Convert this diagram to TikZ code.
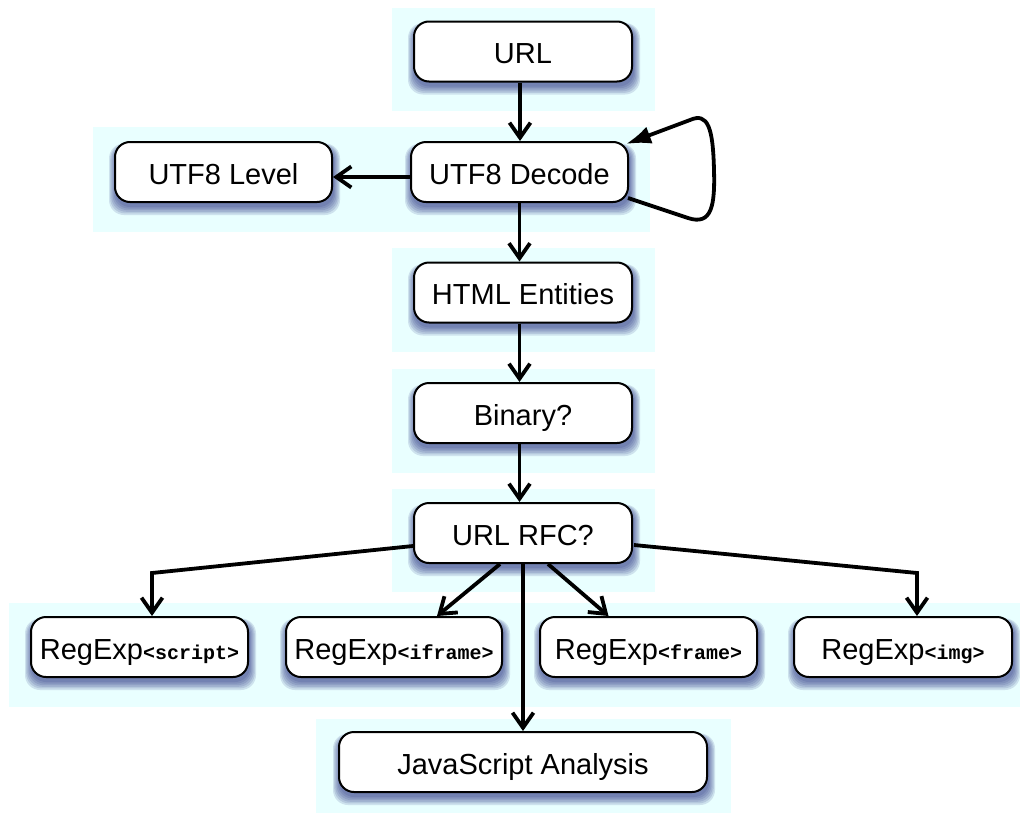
\documentclass[tikz,border=0pt]{standalone}
\usepackage{fontspec}
\setmainfont{Liberation Sans}
\setmonofont{Liberation Mono}
\usetikzlibrary{arrows.meta,calc}
\pgfdeclarelayer{bgl}
\pgfdeclarelayer{shl}
\pgfsetlayers{bgl,shl,main}
\definecolor{bgcyan}{RGB}{233,255,255}
\definecolor{shc}{RGB}{40,50,130}
\newcommand{\tg}[1]{{\fontsize{20}{21}\selectfont\ttfamily\bfseries #1}}
\begin{document}
\begin{tikzpicture}[x=1pt,y=-1pt,
  box/.style={draw, line width=2pt, fill=white, rounded corners=15pt,
    minimum height=60pt, minimum width=218pt, inner sep=0pt,
    text height=24.5pt, text depth=0pt, font=\fontsize{29}{33}\selectfont},
  arr/.style={line width=3.8pt, -{Straight Barb[length=15pt,width=21pt]}},
  loop/.style={line width=3.8pt, -{Latex[length=25pt,width=18pt]}},
  bgbox/.style={fill=bgcyan}]
\useasboundingbox (0,0) rectangle (1020,814);

% nodes
\node[box] (url) at (523,51.5) {URL};
\node[box, minimum width=217pt] (dec) at (519.5,172) {UTF8 Decode};
\node[box, minimum width=217pt] (lvl) at (223.5,172) {UTF8 Level};
\node[box] (html) at (523,292.5) {HTML Entities};
\node[box] (bin) at (523,413) {Binary?};
\node[box] (rfc) at (523,533) {URL RFC?};
\node[box, minimum width=217pt] (script) at (139.5,647) {RegExp\tg{<script>}};
\node[box, minimum width=216pt] (iframe) at (394,647) {RegExp\tg{<iframe>}};
\node[box, minimum width=217pt] (frame) at (648.5,647) {RegExp\tg{<frame>}};
\node[box] (img) at (903,647) {RegExp\tg{<img>}};
\node[box, minimum width=368pt] (js) at (523,762) {JavaScript Analysis};

% backgrounds
\begin{pgfonlayer}{bgl}
\fill[bgbox] (392,8) rectangle (655,111);
\fill[bgbox] (93,127) rectangle (650,232);
\fill[bgbox] (392,248) rectangle (655,352);
\fill[bgbox] (392,369) rectangle (655,473);
\fill[bgbox] (392,489) rectangle (655,592);
\fill[bgbox] (9,603) rectangle (1020,707);
\fill[bgbox] (316,719) rectangle (731,813);
\end{pgfonlayer}

% shadows
\begin{pgfonlayer}{shl}
\foreach \n in {url,dec,lvl,html,bin,rfc,script,iframe,frame,img,js}{
  \foreach \k in {0,...,5}{
    \fill[shc, opacity=0.14, rounded corners=15pt]
      ($(\n.north west)+(1-\k*1.2,5-\k*0.5)$) rectangle ($(\n.south east)+(1+\k*1.2,4+\k*1.6)$);
  }
}
\end{pgfonlayer}

% connectors
\draw[arr] ([xshift=-3pt]url.south) -- ([xshift=-3pt]url.south |- dec.north);
\draw[arr] ($(dec.west)+(0,5)$) -- ($(lvl.east)+(0,5)$);
\coordinate (la) at (688,218);
\coordinate (lb) at (714,170);
\coordinate (lc) at (690,120);
\draw[loop] ($(dec.south east)+(-1,-5)$) -- (la)
  .. controls (712,226) and (715,205) .. (lb)
  .. controls (713,128) and (708,112) .. (lc)
  -- ($(dec.north east)+(-3,3)$);
\draw[arr] (dec.south) -- (dec.south |- html.north);
\draw[arr] ([xshift=-3.5pt]html.south) -- ([xshift=-3.5pt]bin.north);
\draw[arr] ([xshift=-3.5pt]bin.south) -- ([xshift=-3.5pt]rfc.north);
\coordinate (bl) at (152,573);
\draw[arr] ($(rfc.west)+(0,13)$) -- (bl) -- (bl |- script.north);
\draw[arr] ([xshift=-23pt]rfc.south) -- ([xshift=43pt]iframe.north);
\draw[arr] ([xshift=25pt]rfc.south) -- ([xshift=-40pt]frame.north);
\coordinate (br) at (917,573);
\draw[arr] ($(rfc.east)+(1,12)$) -- (br) -- (br |- img.north);
\draw[arr] (rfc.south) -- (js.north);
\end{tikzpicture}
\end{document}
